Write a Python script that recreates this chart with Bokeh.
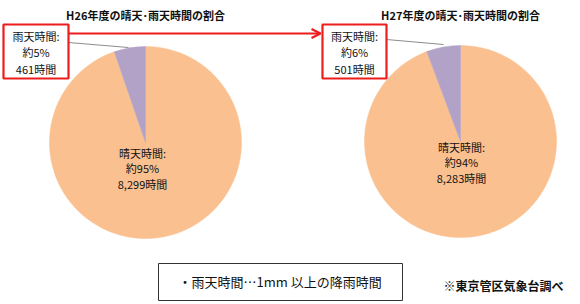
import math
from bokeh.plotting import figure
from bokeh.models import Range1d, Arrow, OpenHead
from bokeh.core.properties import value
from bokeh.embed import file_html
from bokeh.resources import INLINE

# ---- data ----
years = ["H26", "H27"]
rainy_hours = [461, 501]
sunny_hours = [8299, 8283]
rainy_pct = ["約5%", "約6%"]
sunny_pct = ["約95%", "約94%"]
titles = ["H26年度の晴天･雨天時間の割合", "H27年度の晴天･雨天時間の割合"]
note_text = "・雨天時間…1mm 以上の降雨時間"
source_text = "※東京管区気象台調べ"

W, H = 580, 304
FONT = value("Noto Sans CJK JP")
ORANGE = "#FAC090"
PURPLE = "#B3A2C7"
TXT = "#111111"

def Y(v):
    return H - v

p = figure(width=W, height=H, output_backend="svg", toolbar_location=None,
           x_range=Range1d(0, W), y_range=Range1d(0, H),
           min_border=0, outline_line_color=None, background_fill_color="white",
           border_fill_color="white")
p.axis.visible = False
p.grid.visible = False

centers = [(145, 142), (460, 141)]
radius = 96
boxes = [(3, 24, 68, 78), (322, 24, 386, 78)]
leaders = [((68, 42), (128, 47)), ((386, 39), (443, 44))]
sunny_label_pos = [(142, 152), (461, 146)]

for i in range(2):
    cx, cy = centers[i]
    total = rainy_hours[i] + sunny_hours[i]
    frac = rainy_hours[i] / total
    a0 = math.pi / 2
    a1 = a0 + 2 * math.pi * frac
    p.wedge(x=[cx], y=[Y(cy)], radius=radius, start_angle=[a1], end_angle=[a0 + 2 * math.pi],
            fill_color=ORANGE, line_color=ORANGE, line_width=0.5)
    p.wedge(x=[cx], y=[Y(cy)], radius=radius, start_angle=[a0], end_angle=[a1],
            fill_color=PURPLE, line_color=PURPLE, line_width=0.5)

    # title
    p.text(x=[cx], y=[Y(14)], text=[titles[i]], text_font=FONT, text_font_size="11px",
           text_font_style="bold", text_align="center", text_baseline="middle", text_color=TXT)

    # leader line
    (x0, y0), (x1, y1) = leaders[i]
    p.segment(x0=[x0], y0=[Y(y0)], x1=[x1], y1=[Y(y1)], line_color="#8c8c8c", line_width=1)

    # rainy label box
    bx0, by0, bx1, by1 = boxes[i]
    p.quad(left=[bx0], right=[bx1], top=[Y(by0)], bottom=[Y(by1)], fill_color="white",
           line_color="#ee1c1c", line_width=2.2)
    bcx = (bx0 + bx1) / 2
    lines = ["雨天時間:", rainy_pct[i], f"{rainy_hours[i]:,}時間"]
    for k, t in enumerate(lines):
        p.text(x=[bcx], y=[Y(35 + k * 16.5)], text=[t], text_font=FONT, text_font_size="11px",
               text_align="center", text_baseline="middle", text_color=TXT)

    # sunny label
    sx, sy = sunny_label_pos[i]
    lines = ["晴天時間:", sunny_pct[i], f"{sunny_hours[i]:,}時間"]
    for k, t in enumerate(lines):
        p.text(x=[sx], y=[Y(sy + k * 15.5)], text=[t], text_font=FONT, text_font_size="11px",
               text_align="center", text_baseline="middle", text_color=TXT)

# red arrow between boxes
p.add_layout(Arrow(end=OpenHead(size=9, line_color="#ee1c1c", line_width=2.2),
                   x_start=68, y_start=Y(33), x_end=320, y_end=Y(33),
                   line_color="#ee1c1c", line_width=2.2))

# bottom note box
p.quad(left=[158], right=[402], top=[Y(263)], bottom=[Y(300)], fill_color="white",
       line_color="#333333", line_width=1)
p.text(x=[280], y=[Y(281)], text=[note_text], text_font=FONT, text_font_size="13px",
       text_align="center", text_baseline="middle", text_color=TXT)
p.text(x=[503], y=[Y(285)], text=[source_text], text_font=FONT, text_font_size="12px",
       text_font_style="bold", text_align="center", text_baseline="middle", text_color=TXT)

open("out.html", "w").write(file_html(p, INLINE))
